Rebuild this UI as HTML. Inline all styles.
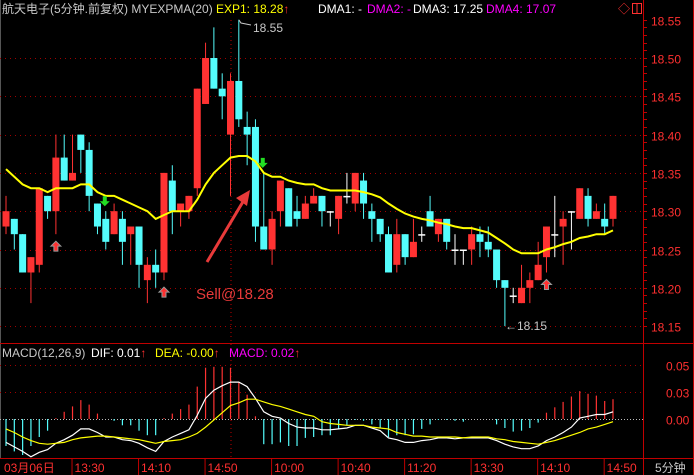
<!DOCTYPE html>
<html><head><meta charset="utf-8">
<style>
html,body{margin:0;padding:0;background:#000;}
svg{display:block;font-family:"Liberation Sans","Noto Sans CJK SC",sans-serif;}
</style></head>
<body>
<svg id="c" width="694" height="475" viewBox="0 0 694 475">
<rect x="0" y="0" width="694" height="475" fill="#000"/>
<line x1="0.5" y1="0" x2="0.5" y2="458" stroke="#555"/>
<line x1="643.5" y1="0" x2="643.5" y2="475" stroke="#c00000"/>
<line x1="0" y1="343.5" x2="694" y2="343.5" stroke="#c00000"/>
<line x1="0" y1="458.5" x2="694" y2="458.5" stroke="#c00000"/>
<line x1="693.5" y1="0" x2="693.5" y2="475" stroke="#c00000"/>
<line x1="231" y1="20" x2="231" y2="458" stroke="#c00000" stroke-dasharray="1,3"/>
<g id="grid"></g>
<g id="candles"></g>
<g id="macd"></g>
<g id="axis"></g>

<g font-size="12">
<text x="2" y="13" fill="#c8c8c8">航天电子(5分钟.前复权) MYEXPMA(20)</text>
<text x="216" y="13" fill="#ffff00">EXP1: 18.28<tspan fill="#ff3030">↑</tspan></text>
<text x="318" y="13" fill="#ffffff">DMA1: -</text>
<text x="367" y="13" fill="#ff00ff">DMA2: -</text>
<text x="413" y="13" fill="#ffffff">DMA3: 17.25</text>
<text x="486" y="13" fill="#ff00ff">DMA4: 17.07</text>
<text x="618" y="13" fill="#ff3030">◇</text>
<rect x="632.5" y="3.5" width="9" height="10" fill="none" stroke="#ff3030"/>
<line x1="637" y1="4" x2="637" y2="13" stroke="#ff3030"/>
</g>
<g font-size="12">
<text x="2" y="357" fill="#c8c8c8">MACD(12,26,9)</text>
<text x="91" y="357" fill="#ffffff">DIF: 0.01<tspan fill="#ff3030">↑</tspan></text>
<text x="155" y="357" fill="#ffff00">DEA: -0.00<tspan fill="#ff3030">↑</tspan></text>
<text x="229" y="357" fill="#ff00ff">MACD: 0.02<tspan fill="#ff3030">↑</tspan></text>
</g>

<g>
<line x1="207" y1="262" x2="244" y2="200" stroke="#e83a3a" stroke-width="3"/>
<polygon points="250,190 236,198 247,206" fill="#e83a3a"/>
<text x="196" y="299" fill="#e83a3a" font-size="15">Sell@18.28</text>
</g>
<g>
<polyline points="239,20 241,23 251,25" fill="none" stroke="#c8c8c8"/>
<text x="253" y="32" fill="#c8c8c8" font-size="12">18.55</text>
</g>
<g>
<text x="505" y="330" fill="#c8c8c8" font-size="12">←18.15</text>
</g>
</svg>
<script>
const opens=[18.28,18.29,18.27,18.22,18.23,18.32,18.30,18.37,18.34,18.40,18.38,18.31,18.29,18.27,18.29,18.27,18.28,18.21,18.23,18.22,18.34,18.30,18.30,18.33,18.44,18.50,18.46,18.40,18.47,18.41,18.41,18.28,18.25,18.30,18.33,18.30,18.29,18.31,18.32,18.30,18.29,18.32,18.31,18.34,18.30,18.29,18.27,18.23,18.27,18.24,18.27,18.30,18.27,18.29,18.25,18.25,18.25,18.27,18.26,18.25,18.21,18.19,18.18,18.20,18.21,18.24,18.27,18.28,18.30,18.29,18.32,18.29,18.29,18.29];
const closes=[18.30,18.27,18.22,18.24,18.33,18.30,18.37,18.34,18.35,18.38,18.32,18.28,18.26,18.30,18.26,18.28,18.23,18.23,18.22,18.35,18.30,18.31,18.32,18.46,18.50,18.46,18.45,18.47,18.42,18.40,18.28,18.25,18.29,18.34,18.28,18.29,18.31,18.32,18.30,18.30,18.32,18.32,18.35,18.31,18.29,18.27,18.22,18.27,18.24,18.26,18.27,18.28,18.29,18.26,18.25,18.25,18.27,18.26,18.25,18.21,18.20,18.19,18.20,18.21,18.23,18.28,18.27,18.29,18.30,18.33,18.29,18.30,18.28,18.32];
const highs=[18.32,18.29,18.27,18.24,18.33,18.32,18.40,18.40,18.40,18.40,18.39,18.31,18.30,18.31,18.30,18.28,18.28,18.24,18.25,18.35,18.36,18.31,18.32,18.46,18.52,18.54,18.48,18.48,18.55,18.43,18.42,18.35,18.30,18.34,18.33,18.32,18.32,18.33,18.32,18.30,18.32,18.35,18.35,18.35,18.31,18.29,18.28,18.29,18.27,18.29,18.28,18.32,18.29,18.29,18.27,18.25,18.28,18.28,18.28,18.25,18.21,18.20,18.23,18.22,18.26,18.28,18.32,18.30,18.30,18.33,18.33,18.31,18.31,18.32];
const lows=[18.27,18.25,18.22,18.18,18.22,18.29,18.27,18.34,18.34,18.35,18.30,18.27,18.25,18.27,18.23,18.23,18.20,18.18,18.20,18.21,18.27,18.28,18.29,18.32,18.44,18.46,18.42,18.32,18.41,18.36,18.26,18.25,18.23,18.28,18.28,18.28,18.29,18.31,18.28,18.28,18.27,18.31,18.30,18.29,18.26,18.26,18.22,18.22,18.23,18.24,18.26,18.28,18.26,18.25,18.23,18.23,18.23,18.24,18.24,18.20,18.15,18.18,18.18,18.18,18.21,18.22,18.24,18.23,18.25,18.29,18.28,18.29,18.27,18.28];
const expma=[18.355,18.345,18.335,18.33,18.33,18.325,18.33,18.33,18.33,18.335,18.335,18.325,18.32,18.32,18.315,18.31,18.305,18.30,18.29,18.295,18.30,18.30,18.30,18.315,18.335,18.35,18.36,18.37,18.372,18.372,18.365,18.35,18.345,18.345,18.34,18.337,18.335,18.335,18.33,18.327,18.327,18.327,18.327,18.325,18.322,18.318,18.31,18.303,18.297,18.293,18.29,18.288,18.285,18.283,18.28,18.278,18.278,18.275,18.272,18.265,18.258,18.25,18.245,18.245,18.245,18.25,18.253,18.257,18.26,18.265,18.267,18.27,18.27,18.275];
const macdBars=[-0.030,-0.036,-0.040,-0.030,-0.020,-0.013,0.001,0.008,0.014,0.021,0.016,0.006,0.000,-0.002,-0.007,-0.007,-0.013,-0.018,-0.018,0.001,0.006,0.011,0.016,0.036,0.057,0.058,0.058,0.057,0.041,0.027,0.003,-0.028,-0.028,-0.026,-0.030,-0.030,-0.021,-0.020,-0.018,-0.018,-0.011,-0.007,-0.001,-0.002,-0.006,-0.010,-0.020,-0.018,-0.018,-0.017,-0.011,-0.006,-0.001,-0.001,-0.002,-0.003,0.000,0.000,0.000,-0.006,-0.010,-0.014,-0.013,-0.010,-0.004,0.007,0.013,0.019,0.025,0.031,0.028,0.026,0.020,0.022];
const dif=[-0.026,-0.031,-0.036,-0.042,-0.037,-0.034,-0.027,-0.023,-0.018,-0.011,-0.011,-0.015,-0.020,-0.020,-0.023,-0.024,-0.027,-0.032,-0.036,-0.025,-0.020,-0.016,-0.012,0.004,0.023,0.032,0.037,0.041,0.041,0.036,0.023,0.008,0.003,0.001,-0.005,-0.009,-0.010,-0.010,-0.012,-0.012,-0.011,-0.010,-0.007,-0.007,-0.010,-0.013,-0.021,-0.023,-0.026,-0.026,-0.024,-0.023,-0.021,-0.021,-0.022,-0.021,-0.021,-0.021,-0.021,-0.024,-0.028,-0.031,-0.033,-0.033,-0.030,-0.024,-0.020,-0.015,-0.009,0.001,0.003,0.005,0.005,0.008];
const dea=[-0.011,-0.015,-0.020,-0.024,-0.027,-0.028,-0.027,-0.026,-0.023,-0.021,-0.020,-0.019,-0.019,-0.020,-0.021,-0.022,-0.023,-0.025,-0.027,-0.025,-0.024,-0.023,-0.020,-0.016,-0.009,-0.001,0.007,0.015,0.018,0.022,0.022,0.019,0.016,0.014,0.011,0.008,0.005,0.003,-0.003,-0.005,-0.006,-0.007,-0.007,-0.007,-0.009,-0.010,-0.011,-0.015,-0.017,-0.019,-0.019,-0.020,-0.020,-0.020,-0.020,-0.021,-0.020,-0.020,-0.020,-0.022,-0.023,-0.025,-0.026,-0.027,-0.028,-0.026,-0.024,-0.021,-0.018,-0.015,-0.011,-0.009,-0.006,-0.003];
const priceTicks=[18.55,18.50,18.45,18.40,18.35,18.30,18.25,18.20,18.15];
const macdTickLabels=["0.05","0.03","0.00"];
const macdTickValues=[0.06,0.03,0.00];
const timeLabels=["03月06日","13:30","14:10","14:50","10:00","10:40","11:20","13:30","14:10","14:50"];
const timeIndex=[0,8,16,24,32,40,48,56,64,72];
const buySignals=[6,19,65];
const sellSignals=[12,31];

const NS="http://www.w3.org/2000/svg";
const X0=6, STEP=8.315;
function xAt(i){return X0+STEP*i;}
function yP(p){return 58+(18.50-p)*766;}
function yM(v){return 419-v*900;}
function mk(tag,attrs,parent){const e=document.createElementNS(NS,tag);for(const k in attrs)e.setAttribute(k,attrs[k]);parent.appendChild(e);return e;}

const grid=document.getElementById('grid');
const axis=document.getElementById('axis');
priceTicks.forEach(p=>{
  const y=Math.round(yP(p))+0.5;
  if(p<18.55){
    const l=mk('line',{x1:0,y1:y,x2:643,y2:y,stroke:'#a00000','stroke-dasharray':'1,4'},grid);
    
    
  }
  const t=mk('text',{x:651,y:y+5,fill:'#ff3030','font-size':12},axis);
  t.textContent=p.toFixed(2);
  
  
});
for(let p=18.56;p>=18.14;p-=0.01){
  const y=Math.round(yP(p))+0.5;
  if(y<18||y>340) continue;
  const l=mk('line',{x1:643,y1:y,x2:647,y2:y,stroke:'#c00000'},axis);
  
  
}
macdTickValues.forEach((v,k)=>{
  const y=Math.round(yM(v))+0.5;
  const l=mk('line',{x1:0,y1:y,x2:643,y2:y,stroke:v===0?'#bbbbbb':'#a00000','stroke-dasharray':v===0?'1,2':'1,4'},grid);
  
  
  const t=mk('text',{x:666,y:y+5,fill:'#ff3030','font-size':12},axis);
  t.textContent=macdTickLabels[k];
  
  
});
timeLabels.forEach((s,k)=>{
  const x=k===0?4:xAt(timeIndex[k])+2;
  const t=mk('text',{x:x,y:472,fill:'#ff3030','font-size':12},axis);
  t.textContent=s;
  
  
  if(k>0){
    const l=mk('line',{x1:x-2.5,y1:459,x2:x-2.5,y2:475,stroke:'#c00000'},axis);
    
    
  }
});
const pl=mk('text',{x:655,y:472,fill:'#c8c8c8','font-size':12},axis);
pl.textContent='5分钟';



const cg=document.getElementById('candles');
const RED='#ff3232', CYAN='#54fcfc';
opens.forEach((o,i)=>{
  const c=closes[i],h=highs[i],l=lows[i],x=xAt(i);
  const col=c>o?RED:(c<o?CYAN:'#ffffff');
  const w=mk('line',{x1:x,y1:yP(h),x2:x,y2:yP(l),stroke:col,'stroke-width':1},cg);
  
  
  const top=yP(Math.max(o,c)),bot=yP(Math.min(o,c));
  const b=mk('rect',{x:x-3.5,y:top,width:7,height:Math.max(1.5,bot-top),fill:col},cg);
  
  
});
const ep=expma.map((v,i)=>xAt(i).toFixed(1)+','+yP(v).toFixed(1)).join(' ');
const el=mk('polyline',{points:ep,fill:'none',stroke:'#ffff00','stroke-width':2},cg);


buySignals.forEach(i=>{
  const x=xAt(i),y=yP(lows[i])+7;
  const a=mk('polygon',{points:`${x},${y} ${x+5},${y+5} ${x+2},${y+5} ${x+2},${y+10} ${x-2},${y+10} ${x-2},${y+5} ${x-5},${y+5}`,fill:'#ff3030',stroke:'#999','stroke-width':1},cg);
  
  
});
sellSignals.forEach(i=>{
  const x=xAt(i)-1,y=yP(highs[i])-15;
  const a=mk('polygon',{points:`${x-2},${y} ${x+2},${y} ${x+2},${y+5} ${x+5},${y+5} ${x},${y+10} ${x-5},${y+5} ${x-2},${y+5}`,fill:'#22dd22'},cg);
  
  
});

const mg=document.getElementById('macd');
macdBars.forEach((v,i)=>{
  if(v===0) return;
  const x=xAt(i);
  const b=mk('line',{x1:x,y1:yM(0),x2:x,y2:yM(v),stroke:v>0?RED:CYAN,'stroke-width':1.2},mg);
  
  
});
const dp=dif.map((v,i)=>xAt(i).toFixed(1)+','+yM(v).toFixed(1)).join(' ');
const dl=mk('polyline',{points:dp,fill:'none',stroke:'#ffffff','stroke-width':1.2},mg);


const ap=dea.map((v,i)=>xAt(i).toFixed(1)+','+yM(v).toFixed(1)).join(' ');
const al=mk('polyline',{points:ap,fill:'none',stroke:'#ffff00','stroke-width':1.2},mg);


</script>
</body></html>
